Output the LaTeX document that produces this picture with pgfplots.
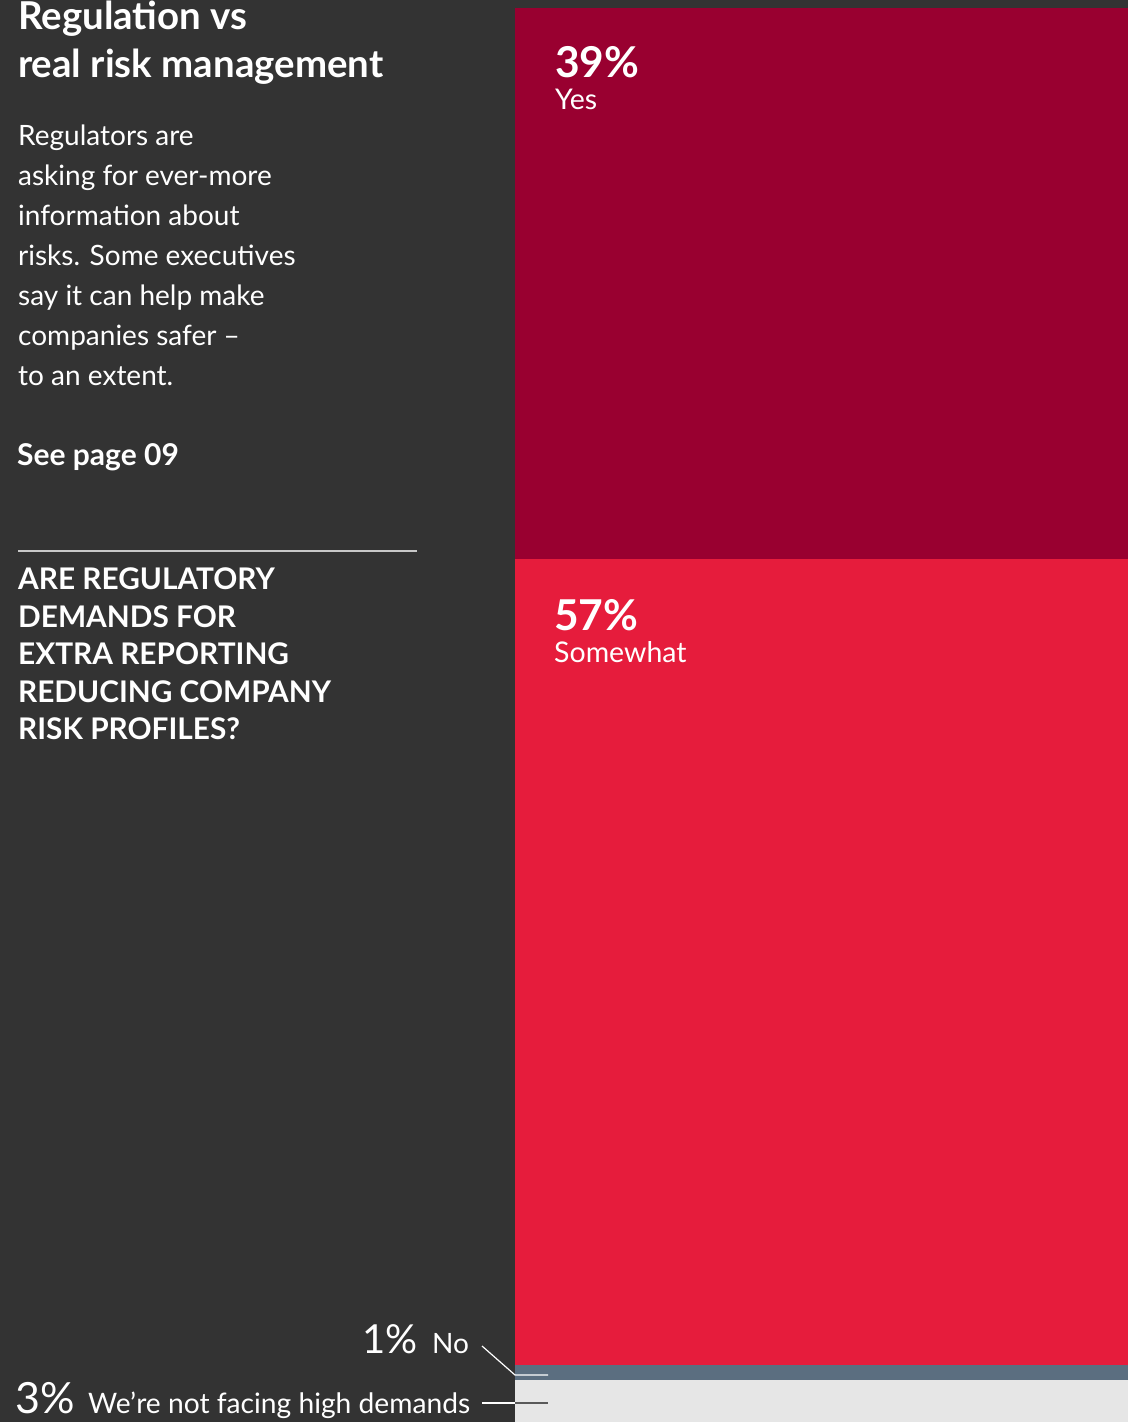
\documentclass[border=0pt]{standalone}
\usepackage{fontspec}
\setmainfont{Lato}
\usepackage{pgfplots}
\pgfplotsset{compat=1.18}
\definecolor{bg}{HTML}{333333}
\definecolor{yescol}{HTML}{990030}
\definecolor{somecol}{HTML}{E61C3C}
\definecolor{nocol}{HTML}{5B6E80}
\definecolor{notcol}{HTML}{E6E6E6}
\definecolor{rulecol}{HTML}{C8C8C8}

\begin{document}
\begin{tikzpicture}[x=1bp,y=1bp]
\fill[bg] (0,0) rectangle (1128,1422);

% one stacked column, bottom to top
\begin{axis}[
    at={(515bp,0bp)}, anchor=south west,
    scale only axis, width=613bp, height=1414bp,
    hide axis, ybar stacked, bar width=613bp,
    xmin=-0.5, xmax=0.5, ymin=0, ymax=100,
    enlargelimits=false, clip=false,
]
\addplot[fill=notcol, draw=none] coordinates {(0,3)};
\addplot[fill=nocol, draw=none] coordinates {(0,1)};
\addplot[fill=somecol, draw=none] coordinates {(0,57)};
\addplot[fill=yescol, draw=none] coordinates {(0,39)};
\end{axis}

% text, in pixel coordinates measured from the top
\begin{scope}[shift={(0,1422)}, y=-1bp]
\tikzset{lab/.style={anchor=base west, inner sep=0, text=white}}

% heading
\node[lab, font=\fontsize{38.4bp}{44bp}\selectfont\bfseries] at (18,30) {Regulation vs};
\node[lab, font=\fontsize{38.4bp}{44bp}\selectfont\bfseries] at (18,78) {real risk management};

% intro text
\foreach \t [count=\i from 0] in {Regulators are, asking for ever-more, information about, risks. Some executives, say it can help make, companies safer --, to an extent.}
  \node[lab, font=\fontsize{28bp}{32bp}\selectfont] at (18,146+40*\i) {\t};
\node[lab, font=\fontsize{30bp}{32bp}\selectfont\bfseries] at (17,466) {See page 09};

\draw[rulecol, line width=2bp] (18,551) -- (417,551);

\foreach \t [count=\i from 0] in {ARE REGULATORY, DEMANDS FOR, EXTRA REPORTING, REDUCING COMPANY, RISK PROFILES?}
  \node[lab, font=\fontsize{29.8bp}{32bp}\selectfont\bfseries] at (18,590+37.5*\i) {\t};

% labels inside the column
\node[lab, font=\fontsize{42.5bp}{44bp}\selectfont\bfseries] at (555,78) {39\%};
\node[lab, font=\fontsize{28.5bp}{32bp}\selectfont] at (555,110) {Yes};
\node[lab, font=\fontsize{42.5bp}{44bp}\selectfont\bfseries] at (554,631) {57\%};
\node[lab, font=\fontsize{28.5bp}{32bp}\selectfont] at (554,663) {Somewhat};

% small segments, labelled outside
\node[anchor=base east, inner sep=0, text=white, font=\fontsize{40bp}{44bp}\selectfont] at (418,1354) {1\%};
\node[lab, font=\fontsize{28bp}{32bp}\selectfont] at (432,1354) {No};
\draw[white, line width=1.2bp] (482,1346) -- (515,1375) -- (548,1375);

\node[lab, font=\fontsize{43bp}{44bp}\selectfont] at (15,1414) {3\%};
\node[lab, font=\fontsize{28.2bp}{32bp}\selectfont] at (88,1414) {We\char39re not facing high demands};
\draw[white, line width=1.2bp] (482,1403) -- (515,1403);
\draw[gray!70!black, line width=1.2bp] (515,1403) -- (548,1403);
\end{scope}
\end{tikzpicture}
\end{document}
